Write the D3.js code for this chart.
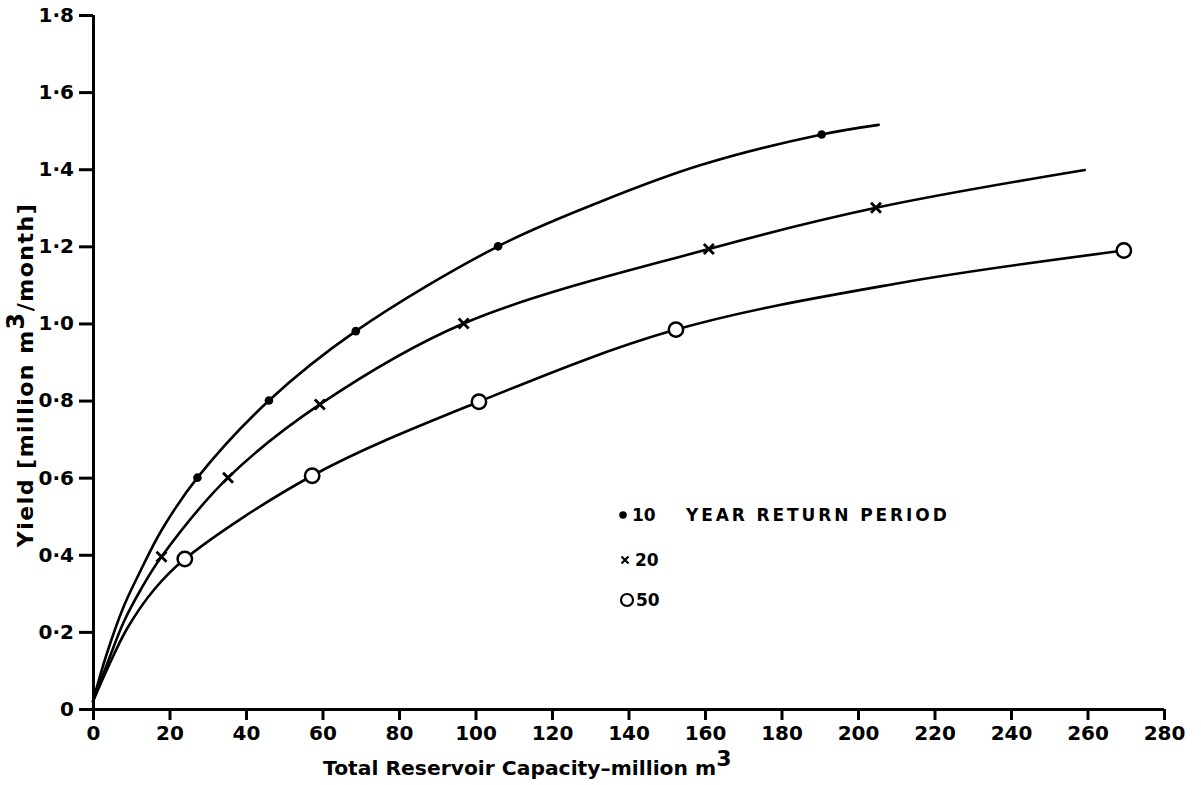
<!DOCTYPE html>
<html>
<head>
<meta charset="utf-8">
<script src="https://cdn.jsdelivr.net/npm/d3@7"></script>
<style>
  html, body { margin: 0; padding: 0; background: #fff; }
  svg { display: block; }
  .axis text { font-family: "DejaVu Sans", sans-serif; font-weight: bold; font-size: 20px; fill: #000; }
  .axis path, .axis line { stroke: #000; stroke-width: 3; }
</style>
</head>
<body>
<svg id="chart" width="1201" height="785"></svg>
<script>
// Return periods (years)
const periods = ["10", "20", "50"];

// Plotted points: total reservoir capacity (million m3) vs yield (million m3/month)
const markCap10   = [27.3, 46.0, 68.7, 105.9, 190.5];
const markYield10 = [0.60, 0.80, 0.98, 1.20, 1.49];
const markCap20   = [17.9, 35.3, 59.3, 96.9, 161.0, 204.7];
const markYield20 = [0.395, 0.60, 0.79, 1.00, 1.193, 1.30];
const markCap50   = [24.0, 57.3, 100.9, 152.4, 269.5];
const markYield50 = [0.389, 0.605, 0.797, 0.984, 1.189];

// Fitted curve knots for each return period
const curveCap10   = [0, 3.5, 8.0, 12.0, 18.0, 27.3, 46.0, 68.7, 105.9, 132.5, 158.7, 190.5, 205.4];
const curveYield10 = [0.02, 0.14, 0.265, 0.35, 0.465, 0.60, 0.80, 0.98, 1.20, 1.315, 1.41, 1.49, 1.515];
const curveCap20   = [0, 4.0, 8.0, 12.5, 17.9, 35.3, 59.3, 96.9, 161.0, 204.7, 259.3];
const curveYield20 = [0.02, 0.125, 0.225, 0.31, 0.395, 0.60, 0.79, 1.00, 1.193, 1.30, 1.398];
const curveCap50   = [0, 4.0, 9.0, 16.0, 24.0, 57.3, 100.9, 152.4, 211.0, 269.5];
const curveYield50 = [0.02, 0.11, 0.21, 0.31, 0.389, 0.605, 0.797, 0.984, 1.105, 1.189];

// Axis ticks
const xTicks = [0, 20, 40, 60, 80, 100, 120, 140, 160, 180, 200, 220, 240, 260, 280];
const yTicks = [0, 0.2, 0.4, 0.6, 0.8, 1.0, 1.2, 1.4, 1.6, 1.8];

const svg = d3.select("#chart");

const x = d3.scaleLinear().domain([0, 280]).range([93, 1164]);
const y = d3.scaleLinear().domain([0, 1.8]).range([709, 15]);

const fmtY = d => d === 0 ? "0" : d3.format(".1f")(d).replace(".", "\u00B7");

// Axes
const gx = svg.append("g").attr("class", "axis")
  .attr("transform", `translate(0,${y(0)})`)
  .call(d3.axisBottom(x).tickValues(xTicks).tickSize(11).tickSizeOuter(0).tickPadding(6).tickFormat(d3.format("d")));
gx.select(".domain").attr("d", `M${x(0) - 10},0.5H${x(280)}`);

const gy = svg.append("g").attr("class", "axis")
  .attr("transform", `translate(${x(0)},0)`)
  .call(d3.axisLeft(y).tickValues(yTicks).tickSize(14).tickSizeOuter(0).tickPadding(5).tickFormat(fmtY));
gy.select(".domain").attr("d", `M0.5,${y(1.8)}V${y(0) + 10}`);

// Curves
const line = d3.line()
  .x(d => x(d[0]))
  .y(d => y(d[1]))
  .curve(d3.curveCatmullRom.alpha(0.5));

const curves = [
  d3.zip(curveCap10, curveYield10),
  d3.zip(curveCap20, curveYield20),
  d3.zip(curveCap50, curveYield50)
];

svg.append("g").selectAll("path")
  .data(curves)
  .join("path")
  .attr("d", line)
  .attr("fill", "none")
  .attr("stroke", "#000")
  .attr("stroke-width", 2.6)
  .attr("stroke-linejoin", "round")
  .attr("stroke-linecap", "round");

// Markers: dot (10 yr), cross (20 yr), open circle (50 yr)
const marks = svg.append("g");

marks.selectAll("circle.dot")
  .data(d3.zip(markCap10, markYield10))
  .join("circle")
  .attr("class", "dot")
  .attr("cx", d => x(d[0]))
  .attr("cy", d => y(d[1]))
  .attr("r", 4.3)
  .attr("fill", "#000");

const crossPath = (cx, cy, s) => `M${cx - s},${cy - s}L${cx + s},${cy + s}M${cx - s},${cy + s}L${cx + s},${cy - s}`;

marks.selectAll("path.cross")
  .data(d3.zip(markCap20, markYield20))
  .join("path")
  .attr("class", "cross")
  .attr("d", d => crossPath(x(d[0]), y(d[1]), 5))
  .attr("stroke", "#000")
  .attr("stroke-width", 2.8);

marks.selectAll("circle.ring")
  .data(d3.zip(markCap50, markYield50))
  .join("circle")
  .attr("class", "ring")
  .attr("cx", d => x(d[0]))
  .attr("cy", d => y(d[1]))
  .attr("r", 7.2)
  .attr("fill", "#fff")
  .attr("stroke", "#000")
  .attr("stroke-width", 2.5);

// Legend
const legend = svg.append("g")
  .attr("font-family", "DejaVu Sans, sans-serif")
  .attr("font-weight", "bold")
  .attr("font-size", 17)
  .attr("fill", "#000");

const rowY = [515, 560, 600];

legend.append("circle").attr("cx", 623).attr("cy", rowY[0]).attr("r", 3.8).attr("fill", "#000");
legend.append("path").attr("d", crossPath(625, rowY[1], 3.5)).attr("stroke", "#000").attr("stroke-width", 2.2);
legend.append("circle").attr("cx", 627).attr("cy", rowY[2]).attr("r", 6).attr("fill", "none").attr("stroke", "#000").attr("stroke-width", 2.2);

const labelX = [632, 635, 636];
legend.selectAll("text.period")
  .data(periods)
  .join("text")
  .attr("class", "period")
  .attr("x", (d, i) => labelX[i])
  .attr("y", (d, i) => rowY[i] + 6)
  .text(d => d);

legend.append("text")
  .attr("x", 686)
  .attr("y", rowY[0] + 6)
  .attr("letter-spacing", 2.9)
  .text("YEAR RETURN PERIOD");

// Axis titles
const xTitle = svg.append("text")
  .attr("x", 323)
  .attr("y", 775)
  .attr("font-family", "DejaVu Sans, sans-serif")
  .attr("font-weight", "bold")
  .attr("font-size", 20.3)
  .attr("fill", "#000");
xTitle.append("tspan").text("Total Reservoir Capacity\u2013million m");
xTitle.append("tspan").attr("dy", -9).attr("font-size", 22).text("3");

const yTitle = svg.append("text")
  .attr("transform", `translate(33,375) rotate(-90)`)
  .attr("text-anchor", "middle")
  .attr("font-family", "DejaVu Sans, sans-serif")
  .attr("font-weight", "bold")
  .attr("font-size", 22)
  .attr("letter-spacing", 1.5)
  .attr("fill", "#000");
yTitle.append("tspan").text("Yield [million m");
yTitle.append("tspan").attr("dy", -9).attr("font-size", 24).text("3");
yTitle.append("tspan").attr("dy", 9).text("/month]");
</script>
</body>
</html>
